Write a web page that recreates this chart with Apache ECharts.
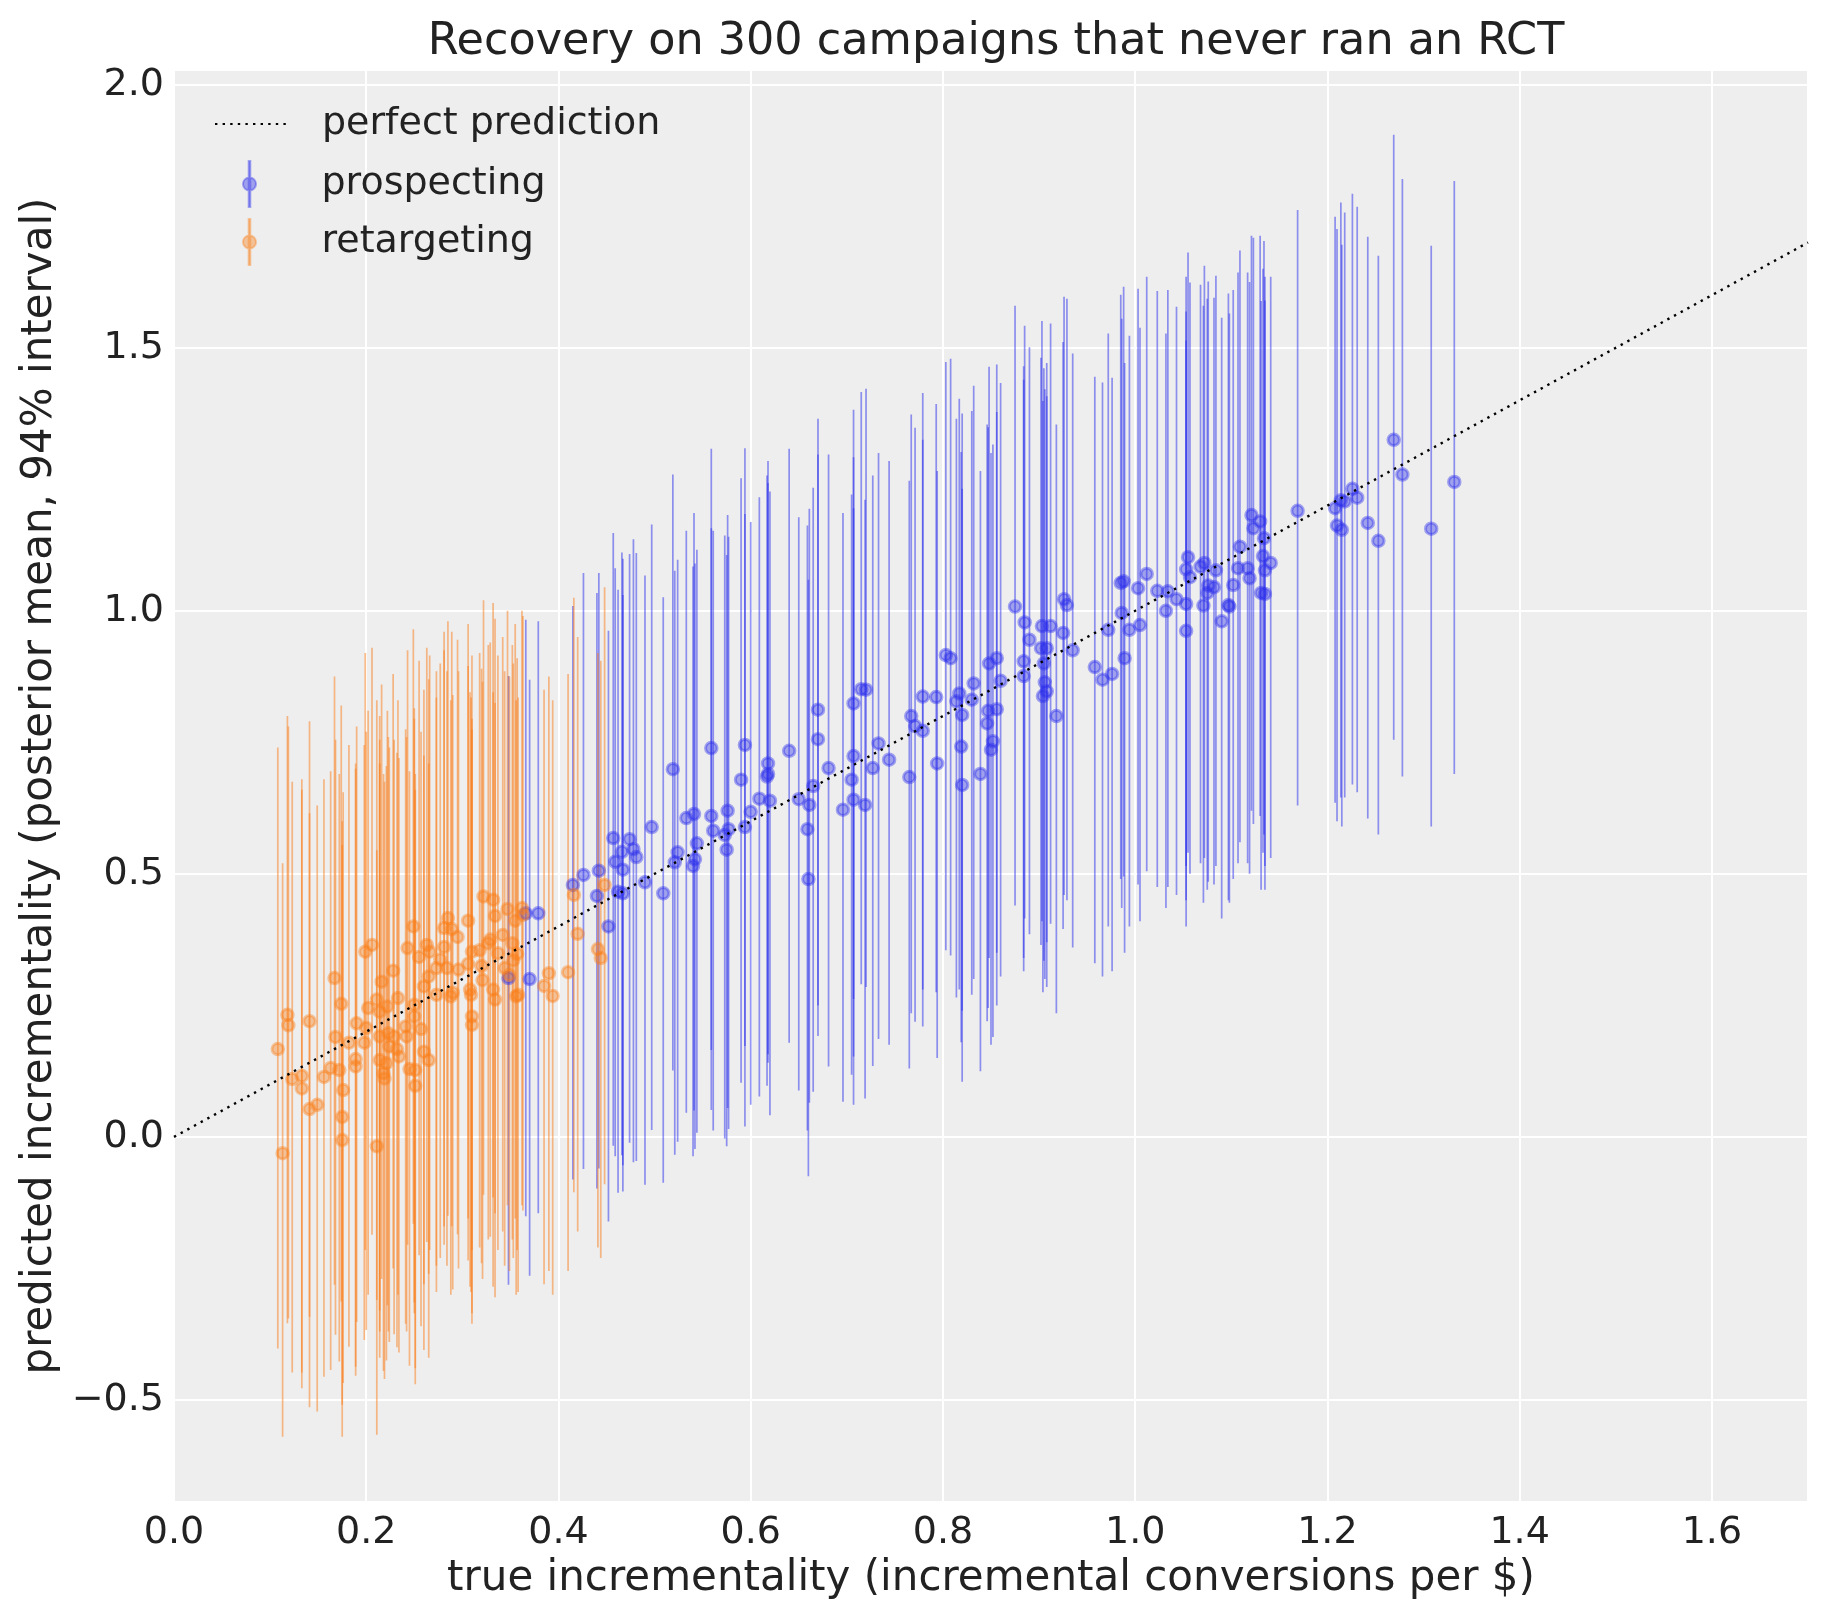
<!DOCTYPE html>
<html>
<head>
<meta charset="utf-8">
<title>Recovery on 300 campaigns</title>
<script src="https://cdn.jsdelivr.net/npm/echarts@6/dist/echarts.min.js"></script>
<style>
  html, body { margin: 0; padding: 0; background: #ffffff; }
  #chart { width: 1823px; height: 1623px; }
</style>
</head>
<body>
<div id="chart"></div>
<script>
// prospecting campaigns: true incrementality, posterior mean, 94% interval
const prospX = [0.348,0.370,0.366,0.379,0.415,0.426,0.440,0.442,0.452,0.457,
  0.459,0.466,0.467,0.462,0.467,0.474,0.478,0.481,0.490,0.497,
  0.509,0.519,0.521,0.524,0.533,0.540,0.542,0.541,0.544,0.559,
  0.559,0.561,0.573,0.575,0.576,0.577,0.590,0.594,0.594,0.600,
  0.609,0.617,0.618,0.618,0.620,0.640,0.650,0.661,0.660,0.659,
  0.665,0.670,0.670,0.681,0.696,0.705,0.707,0.707,0.707,0.715,
  0.720,0.719,0.727,0.733,0.744,0.765,0.767,0.771,0.779,0.779,
  0.793,0.794,0.803,0.808,0.814,0.817,0.819,0.820,0.820,0.830,
  0.832,0.839,0.846,0.847,0.848,0.850,0.852,0.856,0.856,0.860,
  0.875,0.885,0.884,0.884,0.890,0.903,0.912,0.902,0.908,0.905,
  0.906,0.908,0.904,0.918,0.926,0.929,0.925,0.935,0.958,0.966,
  0.972,0.976,0.986,0.985,0.988,0.994,0.989,1.003,1.005,1.012,
  1.023,1.032,1.034,1.043,1.053,1.053,1.055,1.053,1.057,1.068,
  1.072,1.071,1.076,1.075,1.082,1.084,1.090,1.097,1.098,1.102,
  1.107,1.109,1.117,1.119,1.121,1.123,1.130,1.133,1.134,1.141,
  1.135,1.131,1.135,1.169,1.208,1.210,1.215,1.214,1.218,1.226,
  1.231,1.242,1.253,1.269,1.278,1.308,1.332];
const prospMean = [0.302,0.300,0.425,0.425,0.479,0.498,0.458,0.506,0.400,0.568,
  0.523,0.542,0.508,0.466,0.463,0.566,0.547,0.532,0.484,0.589,
  0.463,0.699,0.522,0.541,0.606,0.515,0.528,0.614,0.558,0.739,
  0.610,0.582,0.574,0.546,0.620,0.585,0.679,0.745,0.589,0.618,
  0.643,0.685,0.690,0.710,0.639,0.734,0.642,0.631,0.490,0.585,
  0.667,0.812,0.756,0.701,0.622,0.679,0.824,0.724,0.641,0.851,
  0.850,0.631,0.701,0.748,0.717,0.684,0.800,0.781,0.772,0.837,
  0.836,0.710,0.916,0.910,0.828,0.843,0.742,0.802,0.669,0.831,
  0.862,0.690,0.786,0.810,0.900,0.736,0.752,0.813,0.910,0.867,
  1.008,0.978,0.904,0.876,0.945,0.971,0.971,0.929,0.929,0.900,
  0.864,0.847,0.838,0.800,1.022,1.011,0.958,0.925,0.893,0.869,
  0.964,0.880,0.996,1.053,1.056,0.964,0.910,1.043,0.973,1.070,
  1.038,1.000,1.037,1.022,1.013,0.962,1.102,1.079,1.064,1.084,
  1.091,1.010,1.048,1.034,1.045,1.077,0.980,1.011,1.008,1.049,
  1.081,1.122,1.081,1.062,1.182,1.157,1.170,1.104,1.138,1.091,
  1.077,1.034,1.032,1.190,1.195,1.162,1.154,1.210,1.208,1.232,
  1.215,1.167,1.133,1.325,1.259,1.156,1.245];
const prospLo = [-0.281,-0.264,-0.151,-0.145,-0.081,-0.061,-0.098,-0.060,-0.161,-0.017,
  -0.037,-0.035,-0.054,-0.106,-0.104,-0.011,-0.048,-0.046,-0.091,0.013,
  -0.087,0.126,-0.034,-0.009,0.046,-0.037,-0.023,0.050,0.008,0.165,
  0.051,0.012,-0.003,-0.018,0.055,0.015,0.103,0.173,0.020,0.061,
  0.077,0.097,0.141,0.157,0.041,0.179,0.088,0.065,-0.075,0.012,
  0.086,0.250,0.192,0.134,0.067,0.118,0.262,0.153,0.061,0.290,
  0.285,0.073,0.135,0.186,0.175,0.130,0.235,0.219,0.210,0.280,
  0.275,0.150,0.355,0.345,0.265,0.280,0.180,0.240,0.105,0.270,
  0.300,0.125,0.220,0.245,0.340,0.175,0.190,0.250,0.350,0.305,
  0.440,0.415,0.340,0.315,0.385,0.410,0.405,0.365,0.370,0.335,
  0.300,0.285,0.275,0.235,0.460,0.450,0.395,0.360,0.330,0.305,
  0.400,0.315,0.435,0.490,0.495,0.400,0.350,0.480,0.410,0.505,
  0.475,0.435,0.475,0.460,0.450,0.400,0.540,0.515,0.500,0.520,
  0.530,0.445,0.485,0.470,0.480,0.515,0.415,0.450,0.445,0.490,
  0.520,0.560,0.520,0.500,0.620,0.595,0.610,0.540,0.575,0.530,
  0.515,0.470,0.470,0.630,0.635,0.600,0.590,0.645,0.645,0.670,
  0.655,0.605,0.575,0.755,0.685,0.590,0.690];
const prospHi = [0.876,0.869,0.983,0.980,1.009,1.072,1.034,1.072,0.962,1.148,
  1.081,1.111,1.099,1.040,1.030,1.108,1.136,1.110,1.067,1.164,
  1.026,1.259,1.076,1.097,1.152,1.084,1.090,1.186,1.116,1.308,
  1.157,1.152,1.143,1.106,1.182,1.141,1.252,1.309,1.184,1.169,
  1.216,1.257,1.243,1.285,1.227,1.308,1.178,1.194,1.059,1.162,
  1.234,1.365,1.297,1.297,1.186,1.221,1.382,1.292,1.195,1.416,
  1.422,1.211,1.257,1.300,1.285,1.247,1.373,1.348,1.325,1.414,
  1.393,1.266,1.473,1.479,1.365,1.403,1.302,1.375,1.232,1.380,
  1.428,1.266,1.354,1.349,1.464,1.300,1.316,1.378,1.468,1.433,
  1.580,1.542,1.465,1.439,1.501,1.551,1.546,1.481,1.471,1.461,
  1.421,1.408,1.399,1.354,1.597,1.593,1.511,1.489,1.445,1.434,
  1.527,1.443,1.555,1.601,1.616,1.523,1.471,1.612,1.538,1.635,
  1.608,1.527,1.610,1.578,1.569,1.514,1.681,1.635,1.624,1.620,
  1.656,1.580,1.626,1.593,1.595,1.637,1.557,1.603,1.565,1.610,
  1.643,1.685,1.643,1.625,1.713,1.709,1.713,1.650,1.703,1.635,
  1.635,1.589,1.590,1.762,1.749,1.726,1.696,1.776,1.757,1.793,
  1.768,1.711,1.675,1.905,1.821,1.694,1.817];

// retargeting campaigns
const retX = [0.108,0.113,0.118,0.119,0.123,0.133,0.133,0.141,0.141,0.149,
  0.156,0.163,0.167,0.168,0.172,0.174,0.176,0.175,0.175,0.182,
  0.189,0.190,0.189,0.198,0.199,0.206,0.200,0.202,0.211,0.211,
  0.214,0.214,0.214,0.216,0.218,0.219,0.221,0.222,0.223,0.224,
  0.228,0.229,0.232,0.233,0.234,0.241,0.242,0.243,0.245,0.250,
  0.251,0.251,0.249,0.250,0.255,0.257,0.260,0.260,0.263,0.265,
  0.266,0.265,0.273,0.273,0.277,0.281,0.281,0.285,0.284,0.288,
  0.289,0.290,0.295,0.296,0.306,0.306,0.308,0.310,0.310,0.310,
  0.309,0.318,0.320,0.322,0.321,0.327,0.329,0.332,0.332,0.334,
  0.334,0.337,0.342,0.344,0.347,0.349,0.352,0.353,0.355,0.356,
  0.358,0.362,0.363,0.357,0.385,0.390,0.394,0.410,0.420,0.416,
  0.441,0.444,0.448];
const retMean = [0.167,-0.031,0.232,0.212,0.110,0.116,0.092,0.220,0.053,0.061,
  0.114,0.131,0.302,0.190,0.127,0.253,0.089,0.038,-0.006,0.179,
  0.148,0.216,0.134,0.179,0.352,0.365,0.207,0.245,0.261,-0.018,
  0.191,0.238,0.146,0.295,0.121,0.111,0.140,0.248,0.197,0.172,
  0.316,0.191,0.167,0.264,0.153,0.210,0.191,0.359,0.129,0.251,
  0.127,0.097,0.400,0.229,0.342,0.205,0.286,0.162,0.365,0.146,
  0.352,0.305,0.270,0.321,0.337,0.361,0.397,0.416,0.321,0.267,
  0.395,0.274,0.380,0.318,0.411,0.329,0.280,0.352,0.229,0.213,
  0.270,0.355,0.325,0.457,0.298,0.368,0.375,0.451,0.280,0.420,
  0.261,0.349,0.384,0.321,0.433,0.308,0.368,0.336,0.411,0.267,
  0.270,0.435,0.422,0.348,0.287,0.311,0.268,0.313,0.386,0.460,
  0.357,0.340,0.479];
const retLo = [-0.402,-0.570,-0.354,-0.345,-0.448,-0.448,-0.478,-0.342,-0.514,-0.522,
  -0.456,-0.443,-0.281,-0.376,-0.427,-0.313,-0.468,-0.509,-0.570,-0.399,
  -0.437,-0.352,-0.454,-0.386,-0.215,-0.186,-0.367,-0.300,-0.310,-0.566,
  -0.370,-0.330,-0.420,-0.270,-0.445,-0.460,-0.425,-0.320,-0.370,-0.390,
  -0.250,-0.375,-0.400,-0.300,-0.410,-0.355,-0.370,-0.205,-0.435,-0.315,
  -0.440,-0.470,-0.165,-0.335,-0.225,-0.360,-0.280,-0.405,-0.200,-0.420,
  -0.215,-0.260,-0.295,-0.245,-0.230,-0.205,-0.170,-0.150,-0.245,-0.300,
  -0.170,-0.290,-0.185,-0.250,-0.155,-0.235,-0.285,-0.215,-0.335,-0.355,
  -0.295,-0.210,-0.240,-0.110,-0.270,-0.195,-0.190,-0.115,-0.285,-0.145,
  -0.305,-0.215,-0.180,-0.245,-0.130,-0.255,-0.195,-0.230,-0.155,-0.300,
  -0.295,-0.130,-0.140,-0.215,-0.280,-0.255,-0.300,-0.255,-0.180,-0.105,
  -0.210,-0.230,-0.090];
const retHi = [0.740,0.520,0.800,0.780,0.675,0.680,0.660,0.790,0.615,0.630,
  0.680,0.695,0.875,0.755,0.690,0.820,0.655,0.600,0.555,0.745,
  0.710,0.780,0.700,0.745,0.920,0.930,0.770,0.810,0.830,0.545,
  0.755,0.800,0.710,0.860,0.690,0.675,0.705,0.810,0.760,0.740,
  0.880,0.755,0.730,0.830,0.720,0.775,0.760,0.925,0.695,0.815,
  0.690,0.660,0.965,0.795,0.905,0.770,0.850,0.725,0.930,0.710,
  0.915,0.870,0.835,0.885,0.900,0.925,0.960,0.980,0.885,0.830,
  0.960,0.840,0.945,0.885,0.975,0.895,0.845,0.915,0.795,0.775,
  0.835,0.920,0.890,1.020,0.865,0.935,0.940,1.015,0.845,0.985,
  0.825,0.915,0.950,0.885,1.000,0.875,0.935,0.900,0.975,0.830,
  0.835,1.000,0.990,0.910,0.850,0.875,0.830,0.880,0.950,1.025,
  0.920,0.905,1.045];

// reference line y = x
const perfectX = [0, 1.7];

const FONT = 'DejaVu Sans';
const TEXT = '#222222';
const BLUE = '#2a2eec';
const ORANGE = '#fa7c17';

function toPoints(xs, ys) {
  const out = [];
  for (let i = 0; i < xs.length; i++) out.push([xs[i], ys[i]]);
  return out;
}
function toBars(xs, lo, hi) {
  const out = [];
  for (let i = 0; i < xs.length; i++) out.push([xs[i], lo[i], hi[i]]);
  return out;
}
function barRenderer(color) {
  return function (params, api) {
    const x = api.value(0);
    const p1 = api.coord([x, api.value(1)]);
    const p2 = api.coord([x, api.value(2)]);
    return {
      type: 'line',
      shape: { x1: p1[0], y1: p1[1], x2: p2[0], y2: p2[1] },
      style: { stroke: color, lineWidth: 1.7, opacity: 0.5 }
    };
  };
}
function fmt(v) {
  const s = Math.abs(v).toFixed(1);
  return v < 0 ? '\u2212' + s : s;
}

const barIcon = 'path://M6.2,0 L7.8,0 L7.8,46 L6.2,46 Z M7,16.5 A6.5,6.5 0 1 1 7,29.5 A6.5,6.5 0 1 1 7,16.5 Z';

const chart = echarts.init(document.getElementById('chart'));
const option = {
  animation: false,
  backgroundColor: '#ffffff',
  textStyle: { fontFamily: FONT },
  title: {
    text: 'Recovery on 300 campaigns that never ran an RCT',
    left: 991,
    textAlign: 'center',
    top: 15,
    textStyle: { fontFamily: FONT, fontSize: 44.5, fontWeight: 'normal', color: TEXT }
  },
  legend: [{
    data: [{ name: 'perfect prediction', itemStyle: { opacity: 0 } }],
    left: 209,
    top: 100,
    itemWidth: 72,
    itemHeight: 14,
    textStyle: { fontFamily: FONT, fontSize: 38, color: TEXT, padding: [0, 0, 0, 30] }
  }, {
    orient: 'vertical',
    data: [
      { name: 'prospecting', icon: barIcon },
      { name: 'retargeting', icon: barIcon }
    ],
    left: 237,
    top: 155,
    itemWidth: 14,
    itemHeight: 46,
    itemGap: 10,
    textStyle: { fontFamily: FONT, fontSize: 38, color: TEXT, padding: [0, 0, 0, 60] }
  }],
  grid: {
    left: 174, right: 15, top: 70, bottom: 121,
    show: true, backgroundColor: '#eeeeee', borderWidth: 0
  },
  xAxis: {
    type: 'value',
    min: 0,
    max: 1.7,
    interval: 0.2,
    name: 'true incrementality (incremental conversions per $)',
    nameLocation: 'middle',
    nameGap: 56,
    nameTextStyle: { fontFamily: FONT, fontSize: 42, color: TEXT },
    axisLine: { show: false },
    axisTick: { show: false },
    axisLabel: {
      fontFamily: FONT, fontSize: 38, color: TEXT, margin: 12,
      showMaxLabel: false, formatter: fmt
    },
    splitLine: { show: true, lineStyle: { color: '#ffffff', width: 2 } }
  },
  yAxis: {
    type: 'value',
    min: -0.694,
    max: 2.028,
    name: 'predicted incrementality (posterior mean, 94% interval)',
    nameLocation: 'middle',
    nameGap: 110,
    nameTextStyle: { fontFamily: FONT, fontSize: 42, color: TEXT },
    axisLine: { show: false },
    axisTick: { show: false },
    axisLabel: {
      fontFamily: FONT, fontSize: 38, color: TEXT, margin: 10,
      showMinLabel: false, showMaxLabel: false, formatter: fmt
    },
    splitLine: { show: true, lineStyle: { color: '#ffffff', width: 2 } }
  },
  series: [{
    name: 'prospecting bars',
    type: 'custom',
    renderItem: barRenderer(BLUE),
    encode: { x: 0, y: [1, 2] },
    data: toBars(prospX, prospLo, prospHi),
    clip: true,
    z: 2
  }, {
    name: 'prospecting',
    type: 'scatter',
    symbol: 'circle',
    symbolSize: 11.5,
    data: toPoints(prospX, prospMean),
    itemStyle: { color: 'rgba(42,46,236,0.5)', borderColor: 'rgba(42,46,236,0.5)', borderWidth: 3 },
    z: 2
  }, {
    name: 'retargeting bars',
    type: 'custom',
    renderItem: barRenderer(ORANGE),
    encode: { x: 0, y: [1, 2] },
    data: toBars(retX, retLo, retHi),
    clip: true,
    z: 2
  }, {
    name: 'retargeting',
    type: 'scatter',
    symbol: 'circle',
    symbolSize: 11.5,
    data: toPoints(retX, retMean),
    itemStyle: { color: 'rgba(250,124,23,0.5)', borderColor: 'rgba(250,124,23,0.5)', borderWidth: 3 },
    z: 2
  }, {
    name: 'perfect prediction',
    type: 'line',
    data: toPoints(perfectX, perfectX),
    symbol: 'none',
    lineStyle: { color: '#000000', width: 2.4, type: [2.4, 5.2], cap: 'butt' },
    z: 3
  }]
};
chart.setOption(option);
</script>
</body>
</html>
